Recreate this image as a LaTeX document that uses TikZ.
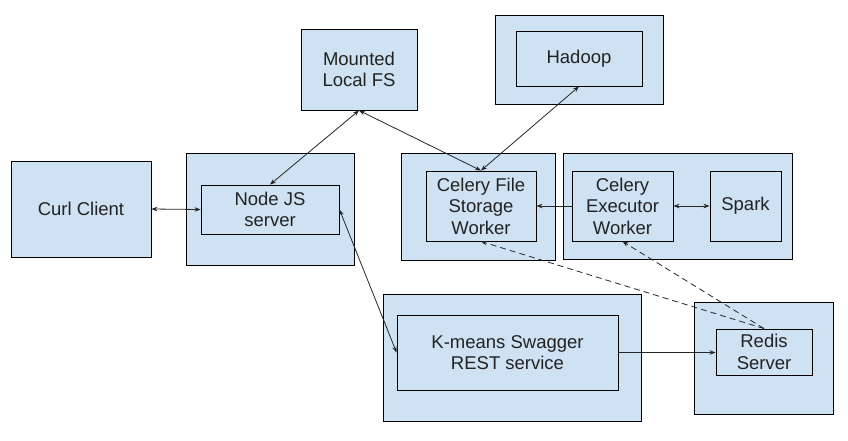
\documentclass[tikz,border=0pt]{standalone}
\usepackage{fontspec}
\setmainfont{Liberation Sans}
\usetikzlibrary{arrows.meta}
\definecolor{boxblue}{HTML}{CFE2F3}
\definecolor{txt}{HTML}{222222}
\begin{document}
\begin{tikzpicture}[x=1pt,y=-1pt,
  box/.style={draw=black,fill=boxblue,line width=0.9pt,inner sep=0pt,
    align=center,text=txt,font=\fontsize{18.5}{21.5}\selectfont},
  link/.style={line width=0.8pt,draw=black!85},
  tip/.style={-{Stealth[length=6pt,width=4.5pt]}},
  tips/.style={{Stealth[length=6pt,width=4.5pt]}-{Stealth[length=6pt,width=4.5pt]}},
  dashedlink/.style={dash pattern=on 6pt off 4pt}]
\useasboundingbox (0,0) rectangle (848,440);
\fill[white] (0,0) rectangle (848,440);
% outer boxes
\node[box,minimum width=168pt,minimum height=112pt] (nodeouter) at (270,209) {};
\node[box,minimum width=168pt,minimum height=89pt] (hadoopouter) at (579,59.5) {};
\node[box,minimum width=154pt,minimum height=107pt] (fileouter) at (478,206.5) {};
\node[box,minimum width=229pt,minimum height=106pt] (execouter) at (677.5,206) {};
\node[box,minimum width=258pt,minimum height=127pt] (kmouter) at (512,357.5) {};
\node[box,minimum width=139pt,minimum height=112pt] (redisouter) at (763.5,358) {};
% boxes
\node[box,minimum width=116pt,minimum height=81pt] (mounted) at (359,69.5) {Mounted\\Local FS};
\node[box,minimum width=140pt,minimum height=96pt] (curl) at (81,209) {Curl Client};
\node[box,minimum width=138pt,minimum height=49pt] (nodejs) at (270,209.5) {Node JS\\server};
\node[box,minimum width=126pt,minimum height=55pt] (hadoop) at (579,58.5) {Hadoop};
\node[box,minimum width=110pt,minimum height=70pt] (file) at (481,206) {Celery File\\Storage\\Worker};
\node[box,minimum width=101pt,minimum height=70pt] (exec) at (622.5,206) {Celery\\Executor\\Worker};
\node[box,minimum width=71pt,minimum height=70pt] (spark) at (745.5,206) {Spark};
\node[box,minimum width=221pt,minimum height=75pt] (km) at (507.5,352.5) {K-means Swagger\\REST service};
\node[box,minimum width=96pt,minimum height=46pt] (redis) at (764,352) {Redis\\Server};
% connectors
\draw[link,tips] (curl.east) -- (nodejs.west);
\draw[link,tips] (nodejs.north) -- (mounted.south);
\draw[link,tips] (mounted.south) -- (file.north);
\draw[link,tips] (hadoop.south) -- (file.north);
\draw[link,tips] (nodejs.east) -- (km.west);
\draw[link,tip] (exec.west) -- (file.east);
\draw[link,tips] (exec.east) -- (spark.west);
\draw[link,tip] (km.east) -- (km.east -| redis.west);
\draw[link,dashedlink,tip] (redis.north) -- (file.south);
\draw[link,dashedlink,tip] (redis.north) -- (exec.south);
\end{tikzpicture}
\end{document}
